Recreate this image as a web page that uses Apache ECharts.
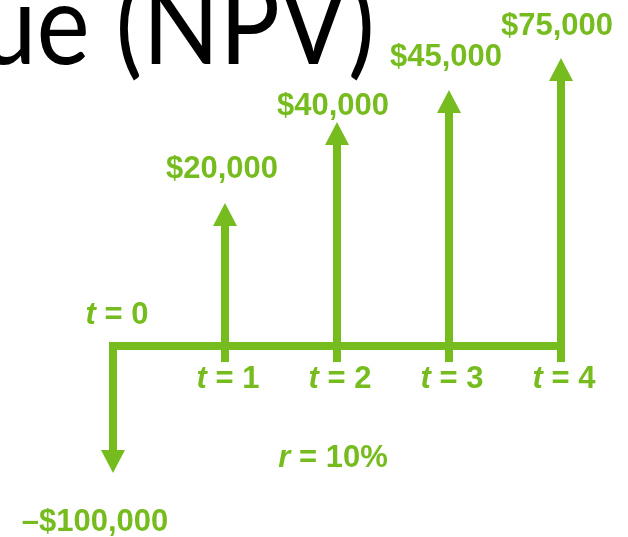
<!DOCTYPE html>
<html>
<head>
<meta charset="utf-8">
<title>NPV</title>
<script src="https://cdn.jsdelivr.net/npm/echarts@6/dist/echarts.min.js"></script>
</head>
<body style="margin:0; background:#fff">
<div id="container" style="width:628px; height:537px"></div>
<script>
// cash flow timeline
var periods = [0, 1, 2, 3, 4];
var cashFlows = [-100000, 20000, 40000, 45000, 75000];
var cashLabels = ['\u2013$100,000', '$20,000', '$40,000', '$45,000', '$75,000'];
// drawn arrow lengths (the picture is not to scale)
var arrowHeights = [-127, 143, 224, 256, 288];
var rateLabel = 'r = 10%';
var titleText = 'Net Present Value (NPV)';

var green = '#77BC1F';
var labelFont = 'bold 31px "Liberation Sans", Arial, sans-serif';
var italicFont = 'italic bold 31px "Liberation Sans", Arial, sans-serif';
// label nudges: [dx, gap from arrow tip]
var labelNudge = [[-18, 49], [-3, 34], [-4, 16], [-3, 33], [-4, 32]];

var myChart = echarts.init(document.getElementById('container'));

function renderArrow(params, api) {
    var i = params.dataIndex;
    var x = api.coord([api.value(0), 0])[0];
    var y0 = api.coord([0, 0])[1];
    var tip = api.coord([0, api.value(1)])[1];
    var up = api.value(1) > 0;
    var head = 23, half = 12, w = 8;
    var base = up ? tip + head : tip - head;
    var shaftTop = up ? base : y0 - w / 2;
    var shaftBottom = up ? y0 + 16 : base;
    var children = [
        {type: 'rect', shape: {x: x - w / 2, y: shaftTop, width: w, height: shaftBottom - shaftTop}, style: {fill: green}},
        {type: 'polygon', shape: {points: [[x - half, base], [x + half, base], [x, tip]]}, style: {fill: green}},
        {type: 'text', x: x + labelNudge[i][0], y: up ? tip - labelNudge[i][1] : tip + labelNudge[i][1],
            style: {text: cashLabels[i], font: labelFont, fill: green, align: 'center', verticalAlign: 'middle'}}
    ];
    var tx = i === 0 ? x + 4 : x + 3;
    var ty = i === 0 ? y0 - 31 : y0 + 33;
    children.push({type: 'text', x: tx, y: ty, style: {
        text: '{i|t} = ' + periods[i], fill: green, align: 'center', verticalAlign: 'middle',
        font: labelFont,
        rich: {i: {font: italicFont, fill: green}}
    }});
    return {type: 'group', children: children};
}

var option = {
    animation: false,
    grid: {left: 113, right: 67, top: 0, bottom: 1},
    xAxis: {type: 'value', min: 0, max: 4, show: false},
    yAxis: {type: 'value', min: -190, max: 346, show: false},
    graphic: [
        {type: 'text', x: 375, y: 28, scaleX: 0.9, z: 0, style: {
            text: titleText, font: '112px Lato, "Open Sans", sans-serif', fill: '#000',
            align: 'right', verticalAlign: 'middle'}},
        {type: 'text', x: 333, y: 458, style: {
            text: '{i|r} = 10%', font: labelFont, fill: green, align: 'center', verticalAlign: 'middle',
            rich: {i: {font: italicFont, fill: green}}}}
    ],
    series: [
        {
            type: 'line',
            data: [[periods[0], 0], [periods[periods.length - 1], 0]],
            symbol: 'none',
            lineStyle: {color: green, width: 8, cap: 'square'},
            z: 2
        },
        {
            type: 'custom',
            renderItem: renderArrow,
            data: periods.map(function (p, i) { return [p, arrowHeights[i], cashFlows[i]]; }),
            z: 3
        }
    ]
};
myChart.setOption(option);
</script>
</body>
</html>
